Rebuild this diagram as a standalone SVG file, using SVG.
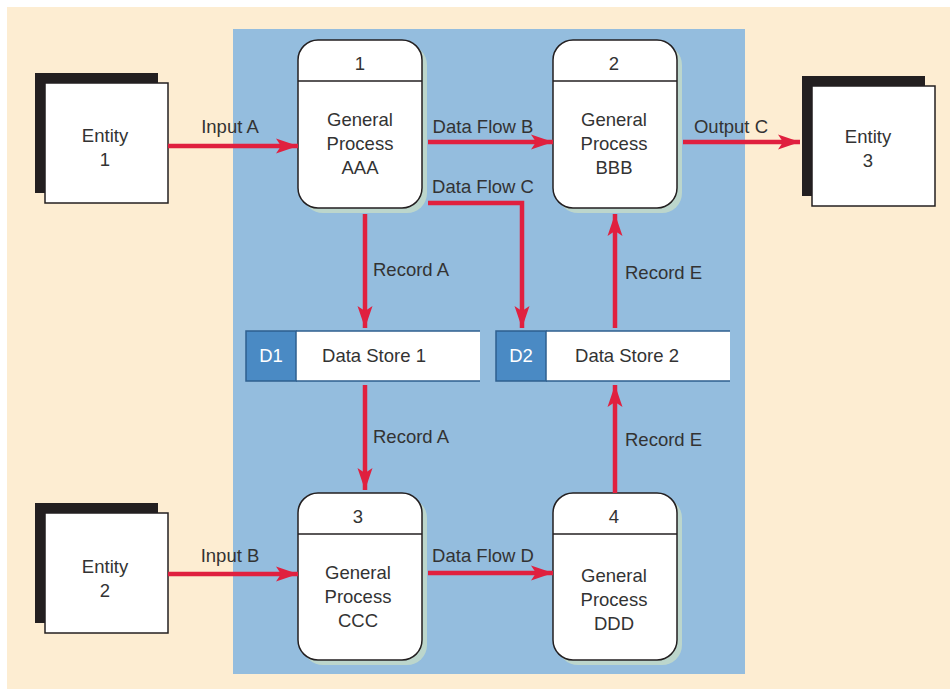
<svg xmlns="http://www.w3.org/2000/svg" width="950" height="690" viewBox="0 0 950 690">
  <defs>
    <marker id="ah" markerUnits="userSpaceOnUse" markerWidth="24" markerHeight="18" refX="22" refY="9" orient="auto">
      <path d="M0,1.5 L22,9 L0,16.5 L5,9 Z" fill="#E0203F"/>
    </marker>
  </defs>
  <style>
    .t { font-family: "Liberation Sans", Arial, sans-serif; font-size: 18.5px; fill: #333333; text-anchor: middle; }
    .tl { font-family: "Liberation Sans", Arial, sans-serif; font-size: 18.5px; fill: #333333; }
    .shadow { fill: #231F20; }
    .ent { fill: #FFFFFF; stroke: #231F20; stroke-width: 1.5; }
    .pshadow { fill: #BCD6CC; }
    .proc { fill: #FFFFFF; stroke: #231F20; stroke-width: 1.5; }
    .div { stroke: #231F20; stroke-width: 1.5; }
    .flow { fill: none; stroke: #E0203F; stroke-width: 4.5; marker-end: url(#ah); }
    .dsid { fill: #4A8AC4; stroke: #2E5F8F; stroke-width: 1.5; }
    .dsbody { fill: #FFFFFF; }
    .dsline { fill: none; stroke: #2E5F8F; stroke-width: 1.5; }
    .dst { font-family: "Liberation Sans", Arial, sans-serif; font-size: 18.5px; fill: #FFFFFF; text-anchor: middle; }
  </style>
  <rect x="0" y="0" width="950" height="690" fill="#FFFFFF"/>
  <rect x="7" y="7" width="943" height="682" fill="#FDEDD2"/>
  <rect x="233" y="29" width="512" height="645" fill="#94BDDE"/>

  <g id="entity1">
    <rect class="shadow" x="35" y="73" width="123" height="120"/>
    <rect class="ent" x="45" y="83" width="123" height="120"/>
    <text class="t" x="105" y="142">Entity</text>
    <text class="t" x="105" y="166">1</text>
  </g>
  <g id="entity2">
    <rect class="shadow" x="35" y="503" width="123" height="120"/>
    <rect class="ent" x="45" y="513" width="123" height="120"/>
    <text class="t" x="105" y="573">Entity</text>
    <text class="t" x="105" y="597">2</text>
  </g>
  <g id="entity3">
    <rect class="shadow" x="802" y="76" width="123" height="120"/>
    <rect class="ent" x="812" y="86" width="123" height="120"/>
    <text class="t" x="868" y="143">Entity</text>
    <text class="t" x="868" y="167">3</text>
  </g>

  <g id="process1">
    <rect class="pshadow" x="303" y="45" width="124" height="168" rx="20"/>
    <rect class="proc" x="298" y="40" width="124" height="168" rx="20"/>
    <line class="div" x1="298" y1="81" x2="422" y2="81"/>
    <text class="t" x="360" y="70">1</text>
    <text class="t" x="360" y="126">General</text>
    <text class="t" x="360" y="150">Process</text>
    <text class="t" x="360" y="174">AAA</text>
  </g>
  <g id="process2">
    <rect class="pshadow" x="558" y="45" width="124" height="168" rx="20"/>
    <rect class="proc" x="553" y="40" width="124" height="168" rx="20"/>
    <line class="div" x1="553" y1="81" x2="677" y2="81"/>
    <text class="t" x="614" y="70">2</text>
    <text class="t" x="614" y="126">General</text>
    <text class="t" x="614" y="150">Process</text>
    <text class="t" x="614" y="174">BBB</text>
  </g>
  <g id="process3">
    <rect class="pshadow" x="303" y="498" width="124" height="167" rx="20"/>
    <rect class="proc" x="298" y="493" width="124" height="167" rx="20"/>
    <line class="div" x1="298" y1="534" x2="422" y2="534"/>
    <text class="t" x="358" y="523">3</text>
    <text class="t" x="358" y="579">General</text>
    <text class="t" x="358" y="603">Process</text>
    <text class="t" x="358" y="627">CCC</text>
  </g>
  <g id="process4">
    <rect class="pshadow" x="558" y="498" width="124" height="167" rx="20"/>
    <rect class="proc" x="553" y="493" width="124" height="167" rx="20"/>
    <line class="div" x1="553" y1="534" x2="677" y2="534"/>
    <text class="t" x="614" y="523">4</text>
    <text class="t" x="614" y="582">General</text>
    <text class="t" x="614" y="606">Process</text>
    <text class="t" x="614" y="630">DDD</text>
  </g>

  <g id="datastore1">
    <rect class="dsbody" x="246" y="331" width="234" height="50"/>
    <rect class="dsid" x="246" y="331" width="50" height="50"/>
    <path class="dsline" d="M296,331 H480 M296,381 H480"/>
    <text class="dst" x="271" y="362">D1</text>
    <text class="t" x="374" y="362">Data Store 1</text>
  </g>
  <g id="datastore2">
    <rect class="dsbody" x="496" y="331" width="234" height="50"/>
    <rect class="dsid" x="496" y="331" width="50" height="50"/>
    <path class="dsline" d="M546,331 H730 M546,381 H730"/>
    <text class="dst" x="521" y="362">D2</text>
    <text class="t" x="627" y="362">Data Store 2</text>
  </g>

  <g id="connectors">
    <path class="flow" d="M168,146 H298"/>
    <text class="t" x="230" y="133">Input A</text>
    <path class="flow" d="M428,142 H553"/>
    <text class="t" x="483" y="133">Data Flow B</text>
    <path class="flow" d="M428,203 H522 V328"/>
    <text class="t" x="483" y="193">Data Flow C</text>
    <path class="flow" d="M683,142 H800"/>
    <text class="t" x="731" y="133">Output C</text>
    <path class="flow" d="M365,214 V328"/>
    <text class="tl" x="373" y="276">Record A</text>
    <path class="flow" d="M615,328 V214"/>
    <text class="tl" x="625" y="279">Record E</text>
    <path class="flow" d="M365,385 V490"/>
    <text class="tl" x="373" y="443">Record A</text>
    <path class="flow" d="M615,493 V385"/>
    <text class="tl" x="625" y="446">Record E</text>
    <path class="flow" d="M168,574 H298"/>
    <text class="t" x="230" y="562">Input B</text>
    <path class="flow" d="M428,573 H553"/>
    <text class="t" x="483" y="562">Data Flow D</text>
  </g>
</svg>
